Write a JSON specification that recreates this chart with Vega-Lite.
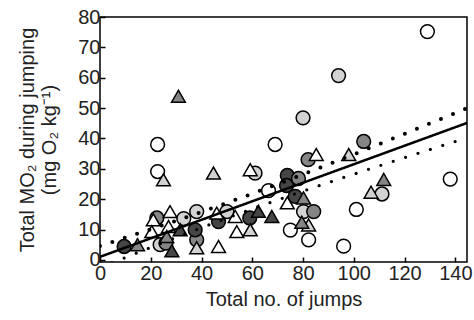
{
  "$schema": "https://vega.github.io/schema/vega-lite/v6.json",
  "width": 367,
  "height": 245,
  "autosize": "none",
  "padding": {"left": 100, "top": 17, "right": 7, "bottom": 58},
  "config": {
    "font": "Liberation Sans",
    "view": {"stroke": "black", "strokeWidth": 1.5},
    "axis": {
      "domain": false,
      "grid": false,
      "tickColor": "black",
      "tickWidth": 1.5,
      "tickSize": -5,
      "labelFontSize": 20,
      "labelColor": "#222",
      "labelOverlap": false,
      "labelFlush": false,
      "titleFontSize": 20,
      "titleFontWeight": "normal",
      "titleColor": "#222"
    }
  },
  "datasets": {
    "fit": [
      {"x": 0, "y": 1.0, "k": "fit"}, {"x": 144.6, "y": 45.1, "k": "fit"},
      {"x": 0, "y": -2.58, "k": "lo"}, {"x": 10, "y": 0.78, "k": "lo"}, {"x": 20, "y": 4.11, "k": "lo"},
      {"x": 30, "y": 7.39, "k": "lo"}, {"x": 40, "y": 10.6, "k": "lo"}, {"x": 50, "y": 13.74, "k": "lo"},
      {"x": 60, "y": 16.79, "k": "lo"}, {"x": 70, "y": 19.75, "k": "lo"}, {"x": 80, "y": 22.64, "k": "lo"},
      {"x": 90, "y": 25.46, "k": "lo"}, {"x": 100, "y": 28.23, "k": "lo"}, {"x": 110, "y": 30.97, "k": "lo"},
      {"x": 120, "y": 33.67, "k": "lo"}, {"x": 130, "y": 36.35, "k": "lo"}, {"x": 140, "y": 39.01, "k": "lo"},
      {"x": 144.6, "y": 40.2, "k": "lo"},
      {"x": 0, "y": 4.58, "k": "hi"}, {"x": 10, "y": 7.32, "k": "hi"}, {"x": 20, "y": 10.09, "k": "hi"},
      {"x": 30, "y": 12.91, "k": "hi"}, {"x": 40, "y": 15.8, "k": "hi"}, {"x": 50, "y": 18.76, "k": "hi"},
      {"x": 60, "y": 21.81, "k": "hi"}, {"x": 70, "y": 24.95, "k": "hi"}, {"x": 80, "y": 28.16, "k": "hi"},
      {"x": 90, "y": 31.44, "k": "hi"}, {"x": 100, "y": 34.77, "k": "hi"}, {"x": 110, "y": 38.13, "k": "hi"},
      {"x": 120, "y": 41.53, "k": "hi"}, {"x": 130, "y": 44.95, "k": "hi"}, {"x": 140, "y": 48.39, "k": "hi"},
      {"x": 144.6, "y": 50.0, "k": "hi"}
    ],
    "pts": [
      {"x": 129, "y": 75.2, "s": "c", "g": "w"},
      {"x": 22.7, "y": 38, "s": "c", "g": "w"},
      {"x": 22.7, "y": 29.1, "s": "c", "g": "w"},
      {"x": 69, "y": 38, "s": "c", "g": "w"},
      {"x": 66.4, "y": 22.8, "s": "c", "g": "w"},
      {"x": 101, "y": 16.6, "s": "c", "g": "w"},
      {"x": 138, "y": 26.6, "s": "c", "g": "w"},
      {"x": 75, "y": 9.8, "s": "c", "g": "w"},
      {"x": 82.2, "y": 6.6, "s": "c", "g": "w"},
      {"x": 96, "y": 4.5, "s": "c", "g": "w"},
      {"x": 94, "y": 60.7, "s": "c", "g": "l"},
      {"x": 80, "y": 46.8, "s": "c", "g": "l"},
      {"x": 61.1, "y": 28.6, "s": "c", "g": "l"},
      {"x": 80.2, "y": 15.9, "s": "c", "g": "l"},
      {"x": 111.1, "y": 21.7, "s": "c", "g": "l"},
      {"x": 33, "y": 13.6, "s": "c", "g": "l"},
      {"x": 38.1, "y": 15.9, "s": "c", "g": "l"},
      {"x": 50, "y": 15.9, "s": "c", "g": "l"},
      {"x": 23.7, "y": 5, "s": "c", "g": "l"},
      {"x": 103.9, "y": 39, "s": "c", "g": "m"},
      {"x": 82, "y": 33, "s": "c", "g": "m"},
      {"x": 84.2, "y": 15.9, "s": "c", "g": "m"},
      {"x": 22.4, "y": 13.8, "s": "c", "g": "m"},
      {"x": 38.1, "y": 6.6, "s": "c", "g": "m"},
      {"x": 26, "y": 5.5, "s": "c", "g": "m"},
      {"x": 73.8, "y": 27.8, "s": "c", "g": "d"},
      {"x": 73.5, "y": 24.5, "s": "c", "g": "d"},
      {"x": 76.9, "y": 20.9, "s": "c", "g": "d"},
      {"x": 37.5, "y": 9.9, "s": "c", "g": "d"},
      {"x": 46.7, "y": 12.6, "s": "c", "g": "d"},
      {"x": 59, "y": 13.8, "s": "c", "g": "d"},
      {"x": 9.5, "y": 4.4, "s": "c", "g": "d"},
      {"x": 78.2, "y": 26.8, "s": "c", "g": "m"},
      {"x": 85.2, "y": 34.7, "s": "t", "g": "w"},
      {"x": 59.2, "y": 29.7, "s": "t", "g": "w"},
      {"x": 73.8, "y": 18.8, "s": "t", "g": "w"},
      {"x": 21, "y": 13.2, "s": "t", "g": "w"},
      {"x": 27.6, "y": 15.9, "s": "t", "g": "w"},
      {"x": 27, "y": 11, "s": "t", "g": "w"},
      {"x": 20.4, "y": 9.3, "s": "t", "g": "w"},
      {"x": 46, "y": 15.4, "s": "t", "g": "w"},
      {"x": 46.7, "y": 4.4, "s": "t", "g": "w"},
      {"x": 53.3, "y": 14.3, "s": "t", "g": "w"},
      {"x": 53.9, "y": 9.3, "s": "t", "g": "w"},
      {"x": 25, "y": 26.4, "s": "t", "g": "l"},
      {"x": 44.7, "y": 28.6, "s": "t", "g": "l"},
      {"x": 98, "y": 34.7, "s": "t", "g": "l"},
      {"x": 106.8, "y": 22.3, "s": "t", "g": "l"},
      {"x": 82.2, "y": 11.5, "s": "t", "g": "l"},
      {"x": 38.1, "y": 4, "s": "t", "g": "l"},
      {"x": 59.2, "y": 9.9, "s": "t", "g": "l"},
      {"x": 30.9, "y": 53.9, "s": "t", "g": "m"},
      {"x": 111.8, "y": 26.5, "s": "t", "g": "m"},
      {"x": 80.2, "y": 20.4, "s": "t", "g": "m"},
      {"x": 79.5, "y": 12.4, "s": "t", "g": "m"},
      {"x": 26.3, "y": 7.7, "s": "t", "g": "m"},
      {"x": 14.8, "y": 5, "s": "t", "g": "m"},
      {"x": 62.4, "y": 16, "s": "t", "g": "d"},
      {"x": 67.7, "y": 14.3, "s": "t", "g": "d"},
      {"x": 28.3, "y": 3, "s": "t", "g": "d"},
      {"x": 31.6, "y": 9.9, "s": "t", "g": "d"}
    ]
  },
  "encoding": {
    "x": {
      "field": "x", "type": "quantitative",
      "scale": {"domain": [0, 144.6], "nice": false, "zero": false},
      "axis": {"values": [0, 20, 40, 60, 80, 100, 120, 140], "labelOverlap": false, "labelPadding": 6, "title": "Total no. of jumps", "titlePadding": 6}
    },
    "y": {
      "field": "y", "type": "quantitative",
      "scale": {"domain": [-0.7, 80], "nice": false, "zero": false},
      "axis": {"values": [0, 10, 20, 30, 40, 50, 60, 70, 80], "labelOverlap": false, "labelPadding": 5, "title": ["Total MO₂ during jumping", "(mg O₂ kg⁻¹)"], "titlePadding": 18, "titleLineHeight": 22}
    }
  },
  "layer": [
    {
      "data": {"name": "pts"},
      "mark": {"type": "point", "filled": true, "stroke": "black", "strokeWidth": 1.5, "opacity": 1, "clip": true},
      "encoding": {
        "shape": {"field": "s", "type": "nominal", "scale": {"domain": ["c", "t"], "range": ["circle", "triangle-up"]}, "legend": null},
        "fill": {"field": "g", "type": "nominal", "scale": {"domain": ["w", "l", "m", "d"], "range": ["#ffffff", "#d2d2d2", "#858585", "#454545"]}, "legend": null},
        "size": {"field": "s", "type": "nominal", "scale": {"domain": ["c", "t"], "range": [190, 190]}, "legend": null}
      }
    },
    {
      "data": {"name": "fit"},
      "mark": {"type": "line", "color": "black", "strokeCap": "round", "clip": true},
      "encoding": {
        "detail": {"field": "k", "type": "nominal"},
        "strokeDash": {"field": "k", "type": "nominal", "scale": {"domain": ["fit", "lo", "hi"], "range": [[1, 0], [0, 13], [0, 13]]}, "legend": null},
        "strokeWidth": {"field": "k", "type": "nominal", "scale": {"domain": ["fit", "lo", "hi"], "range": [2.5, 4, 4]}, "legend": null}
      }
    }
  ]
}
